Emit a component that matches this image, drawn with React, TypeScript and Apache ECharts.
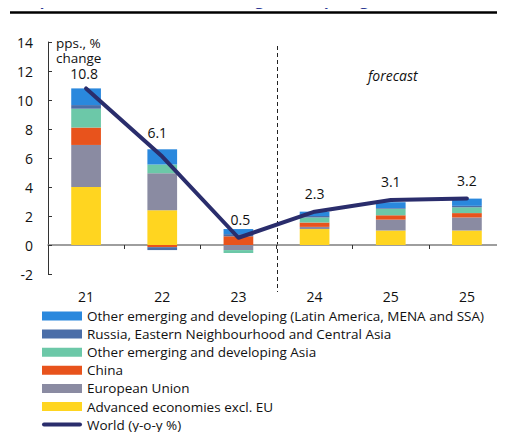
import React, { useEffect, useRef } from "react";
import * as echarts from "echarts";

const categories = ["21", "22", "23", "24", "25", "25"];
const advanced = [4.0, 2.4, 0, 1.1, 1.0, 1.0];
const eu = [2.9, 2.55, -0.35, 0.15, 0.75, 0.9];
const china = [1.2, -0.15, 0.6, 0.3, 0.3, 0.3];
const otherAsia = [1.3, 0.6, -0.2, 0.35, 0.45, 0.4];
const russia = [0.25, -0.2, 0.15, 0.1, 0.05, 0.1];
const otherEm = [1.15, 1.05, 0.35, 0.3, 0.4, 0.5];
const world = [10.8, 6.1, 0.5, 2.3, 3.1, 3.2];
const worldLabelOffsets = [[-2, 4], [-5, -6], [2, 0], [0, 0], [0, 0], [0, 0]];

const names = {
  other: "Other emerging and developing (Latin America, MENA and SSA)",
  russia: "Russia, Eastern Neighbourhood and Central Asia",
  asia: "Other emerging and developing Asia",
  china: "China",
  eu: "European Union",
  adv: "Advanced economies excl. EU",
  world: "World (y-o-y %)",
};

const FONT = "Open Sans";

export default function App() {
  const ref = useRef<HTMLDivElement>(null);
  useEffect(() => {
    const chart = echarts.init(ref.current!, null, { renderer: "svg" });
    const bar = (name: string, data: number[], color: string) => ({
      name,
      type: "bar",
      stack: "total",
      data,
      barWidth: "39%",
      itemStyle: { color },
    });
    chart.setOption({
      animation: false,
      textStyle: { fontFamily: FONT },
      grid: { left: 48, top: 42, width: 474, height: 232 },
      legend: {
        orient: "vertical",
        left: 42,
        top: 309,
        padding: 0,
        itemWidth: 40,
        itemHeight: 9,
        itemGap: 4.1,
        icon: "rect",
        textStyle: { fontSize: 13.5, color: "#111", fontFamily: FONT, lineHeight: 14 },
        data: [
          names.other,
          names.russia,
          names.asia,
          names.china,
          names.eu,
          names.adv,
          { name: names.world, icon: "path://M2,0 L38,0 A2,2 0 0 1 38,4 L2,4 A2,2 0 0 1 2,0 Z" },
        ],
      },
      xAxis: [
        {
          type: "category",
          data: categories,
          position: "bottom",
          axisLine: { show: false, onZero: false },
          axisTick: { show: false },
          axisLabel: { fontSize: 14, color: "#111", margin: 15 },
        },
        {
          type: "category",
          data: categories,
          axisLine: { show: true, onZero: true, lineStyle: { color: "#7f7f7f", width: 1.5 } },
          axisTick: { show: true, inside: true, length: 4, lineStyle: { color: "#333" } },
          axisLabel: { show: false },
        },
      ],
      yAxis: {
        type: "value",
        min: -2,
        max: 14,
        interval: 2,
        axisLine: { show: true, lineStyle: { color: "#333", width: 1 } },
        axisTick: { show: true, inside: true, length: 4, lineStyle: { color: "#333" } },
        splitLine: { show: false },
        axisLabel: { fontSize: 14, color: "#111", margin: 15 },
      },
      graphic: [
        {
          type: "line",
          shape: { x1: 10, y1: 12.5, x2: 505, y2: 12.5 },
          style: { stroke: "#000", lineWidth: 2.5 },
        },
        {
          type: "text",
          x: 13,
          y: 7,
          style: {
            text: "Graph I.2.9:",
            fontSize: 15,
            fontWeight: "bold",
            fill: "#2e3a94",
            fontFamily: FONT,
            verticalAlign: "bottom",
          },
        },
        {
          type: "text",
          x: 128,
          y: 7,
          style: {
            text: "Contributions to global import growth",
            fontSize: 15,
            fontWeight: "bold",
            fill: "#2e3a94",
            fontFamily: FONT,
            verticalAlign: "bottom",
          },
        },
        {
          type: "text",
          x: 56,
          y: 35,
          style: { text: "pps., %\nchange", fontSize: 13.5, lineHeight: 15, fill: "#111", fontFamily: FONT },
        },
        {
          type: "text",
          x: 368,
          y: 68,
          style: { text: "forecast", fontSize: 14, fontStyle: "italic", fill: "#111", fontFamily: FONT },
        },
        {
          type: "line",
          shape: { x1: 277.5, y1: 46, x2: 277.5, y2: 292 },
          style: { stroke: "#222", lineWidth: 1, lineDash: [4, 3] },
        },
      ],
      series: [
        bar(names.adv, advanced, "#ffd520"),
        bar(names.eu, eu, "#8a8ba2"),
        bar(names.china, china, "#e8531c"),
        bar(names.asia, otherAsia, "#6cc8a8"),
        bar(names.russia, russia, "#4b6ea8"),
        bar(names.other, otherEm, "#2a88dd"),
        {
          name: names.world,
          type: "line",
          data: world.map((v, i) => ({ value: v, label: { offset: worldLabelOffsets[i] } })),
          showSymbol: true,
          symbol: "circle",
          symbolSize: 1,
          lineStyle: { color: "#2a2d6c", width: 4, cap: "round", join: "round" },
          itemStyle: { color: "#2a2d6c" },
          label: {
            show: true,
            position: "top",
            distance: 11,
            fontSize: 14,
            color: "#111",
            fontFamily: FONT,
          },
          z: 10,
        },
      ],
    });
    return () => chart.dispose();
  }, []);
  return <div ref={ref} style={{ width: 505, height: 432, marginLeft: -8, marginTop: -8 }} />;
}
